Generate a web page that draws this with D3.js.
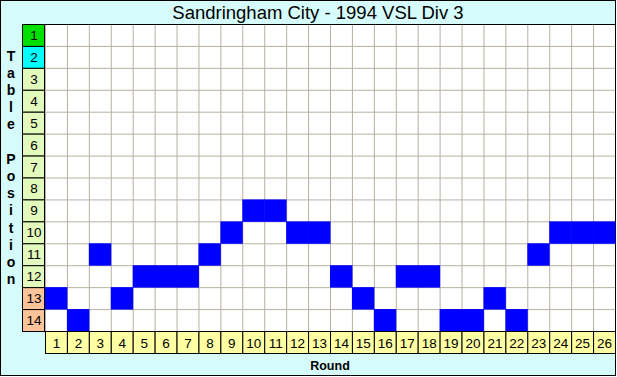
<!DOCTYPE html>
<html><head><meta charset="utf-8">
<script src="https://cdn.jsdelivr.net/npm/d3@7"></script>
<style>
html,body{margin:0;padding:0;background:#fff;}
svg{display:block;}
text{font-family:"Liberation Sans",Arial,sans-serif;}
</style></head>
<body>
<svg id="chart" width="617" height="377"></svg>
<script>
const title = "Sandringham City - 1994 VSL Div 3";
const rounds = d3.range(1, 27);
const positions = d3.range(1, 15);
const tablePosition = [13,14,11,13,12,12,12,11,10,9,9,10,10,12,13,14,12,12,14,14,13,14,11,10,10,10];
const yTitle = "Table Position";
const xTitle = "Round";

const W = 617, H = 377;
const svg = d3.select("#chart");

svg.append("rect").attr("x",0.5).attr("y",0.5).attr("width",W-2).attr("height",H-2)
  .attr("fill","#d6fbfb").attr("stroke","#000");

const x = d3.scaleBand().domain(rounds).range([45, 615]);
const y = d3.scaleBand().domain(positions).range([24, 331]);

// plot background
svg.append("rect").attr("x",45).attr("y",24).attr("width",570).attr("height",307).attr("fill","#fff");

// grid via axes
svg.append("g").attr("transform","translate(0,24)")
  .call(d3.axisTop(x).tickSize(-307).tickFormat("").tickSizeOuter(0))
  .call(g=>g.select(".domain").remove())
  .call(g=>g.selectAll(".tick").attr("transform", d=>`translate(${x(d)+0.5},0)`))
  .call(g=>g.selectAll(".tick line").attr("stroke","#b8b0a4"));
svg.append("g").attr("transform","translate(45,0)")
  .call(d3.axisLeft(y).tickSize(-570).tickFormat("").tickSizeOuter(0))
  .call(g=>g.select(".domain").remove())
  .call(g=>g.selectAll(".tick").attr("transform", d=>`translate(0,${y(d)+0.5})`))
  .call(g=>g.selectAll(".tick line").attr("stroke","#b8b0a4"));

// bars
svg.append("g").selectAll("rect").data(tablePosition).join("rect")
  .attr("x",(d,i)=>x(rounds[i]))
  .attr("y",d=>y(d))
  .attr("width",x.bandwidth()+0.5)
  .attr("height",y.bandwidth()+0.5)
  .attr("fill","#0000ff");

// top border line of plot
svg.append("line").attr("x1",22).attr("x2",616).attr("y1",24.5).attr("y2",24.5).attr("stroke","#000");

// row labels
const rowColor = p => p===1 ? "#00e000" : p===2 ? "#00ffff" : p>=13 ? "#fcc498" : "#e2fbbc";
const rl = svg.append("g").selectAll("g").data(positions).join("g");
rl.append("rect").attr("x",22.5).attr("y",d=>y(d)+0.5).attr("width",22).attr("height",y.bandwidth())
  .attr("fill",rowColor).attr("stroke","#000");
rl.append("text").attr("x",34).attr("y",d=>y(d)+y.bandwidth()/2+5)
  .attr("text-anchor","middle").attr("font-size",13.5).attr("fill","#000").text(d=>d);

// column labels
const cl = svg.append("g").selectAll("g").data(rounds).join("g");
cl.append("rect").attr("x",d=>x(d)+0.5).attr("y",331.5).attr("width",x.bandwidth()).attr("height",22)
  .attr("fill","#ffffa4").attr("stroke","#000");
cl.append("text").attr("x",d=>x(d)+x.bandwidth()/2+0.5).attr("y",347.5)
  .attr("text-anchor","middle").attr("font-size",13.5).attr("fill","#000").text(d=>d);

// titles
svg.append("text").attr("x",318).attr("y",18.5).attr("text-anchor","middle")
  .attr("font-size",18.5).attr("fill","#000").text(title);
svg.append("text").attr("x",330).attr("y",369.5).attr("text-anchor","middle")
  .attr("font-size",12.5).attr("font-weight","bold").attr("fill","#000").text(xTitle);
svg.append("g").selectAll("text").data(yTitle.split("")).join("text")
  .attr("x",11).attr("y",(d,i)=>60.5+i*17.2).attr("text-anchor","middle")
  .attr("font-size",14).attr("font-weight","bold").attr("fill","#000").text(d=>d);
</script>
</body></html>
